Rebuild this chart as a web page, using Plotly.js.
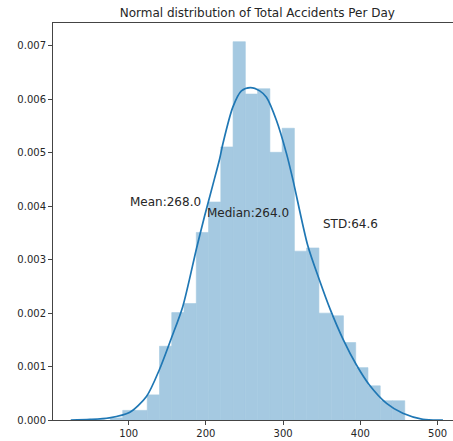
<!DOCTYPE html>
<html>
<head>
<meta charset="utf-8">
<script src="https://cdn.plot.ly/plotly-3.0.1.min.js"></script>
<style>html,body{margin:0;padding:0;background:#fff;}#chart{width:453px;height:441px;}</style>
</head>
<body>
<div id="chart"></div>
<script>
// Histogram bins (left edges) and density heights
var binWidth = 15.88;
var binLeft = [76.4, 92.28, 108.16, 124.04, 139.92, 155.8, 171.68, 187.56, 203.44, 219.32, 235.2, 251.08,
               266.96, 282.84, 298.72, 314.6, 330.48, 346.36, 362.24, 378.12, 394.0, 409.88, 425.76, 441.64];
var density = [0.00004, 0.00018, 0.00018, 0.00047, 0.00138, 0.00201, 0.00218, 0.00351, 0.00408, 0.00511,
               0.00708, 0.0061, 0.0062, 0.00501, 0.00546, 0.00316, 0.00322, 0.002, 0.00195, 0.00145,
               0.00098, 0.00064, 0.00036, 0.00036];

// KDE curve
var kdeX = [25, 50, 75, 101, 123, 140, 155, 170, 188, 198, 209, 218, 222, 235, 246, 257.6, 269.7, 278.4,
            291.3, 304.3, 312.8, 332, 347, 361, 378, 395, 412, 434, 455, 481, 507];
var kdeY = [0, 0.00001, 0.00004, 0.00014, 0.00044, 0.00095, 0.00152, 0.00212, 0.00322, 0.0038, 0.0044,
            0.0049, 0.00517, 0.00586, 0.00616, 0.00622, 0.00616, 0.00604, 0.00561, 0.00499, 0.00449,
            0.00326, 0.00262, 0.00207, 0.0015, 0.00103, 0.00065, 0.00031, 0.000125, 0.000013, 0];

// Statistics labels
var statLabels = ["Mean:268.0", "Median:264.0", "STD:64.6"];
var statX = [100, 200, 350];
var statY = [0.004, 0.0038, 0.0036];

var yTicks = [0, 0.001, 0.002, 0.003, 0.004, 0.005, 0.006, 0.007];
var xTicks = [100, 200, 300, 400, 500];

var font = "DejaVu Sans, sans-serif";
var barColor = "rgb(165,201,225)";

var traces = [
  {
    type: "bar",
    x: binLeft,
    y: density,
    width: binWidth,
    offset: 0,
    marker: {color: barColor, line: {width: 0.6, color: barColor}},
    hoverinfo: "x+y"
  },
  {
    type: "scatter",
    mode: "lines",
    x: kdeX,
    y: kdeY,
    line: {color: "#1f77b4", width: 1.7, shape: "spline", smoothing: 0.8}
  }
];

var annotations = statLabels.map(function (t, i) {
  return {
    text: t, x: statX[i], y: statY[i], xref: "x", yref: "y",
    xanchor: "left", yanchor: "bottom", showarrow: false, borderpad: 0, yshift: -4,
    font: {family: font, size: 12, color: "#262626"}
  };
});

var layout = {
  width: 453, height: 441,
  margin: {l: 53, r: 0, t: 23, b: 21, pad: 0},
  paper_bgcolor: "#fff", plot_bgcolor: "#fff",
  showlegend: false,
  bargap: 0,
  title: {text: "Normal distribution of Total Accidents Per Day", x: 0.568, xanchor: "center",
          y: 0.972, yanchor: "middle", font: {family: font, size: 12, color: "#262626"}},
  xaxis: {range: [2, 520], tickvals: xTicks, ticktext: xTicks.map(String), showgrid: false, zeroline: false,
          showline: true, linecolor: "#444", linewidth: 1, mirror: true, ticks: "outside", ticklen: 4,
          tickcolor: "#444", tickfont: {family: font, size: 10, color: "#262626"}},
  yaxis: {range: [0, 0.00743], tickvals: yTicks, ticktext: yTicks.map(function (v) { return v.toFixed(3); }),
          showgrid: false, zeroline: false, showline: true, linecolor: "#444", linewidth: 1, ticks: "outside",
          ticklen: 4, tickcolor: "#444", tickfont: {family: font, size: 10, color: "#262626"}},
  annotations: annotations
};

Plotly.newPlot("chart", traces, layout, {displayModeBar: false, staticPlot: true});
</script>
</body>
</html>
